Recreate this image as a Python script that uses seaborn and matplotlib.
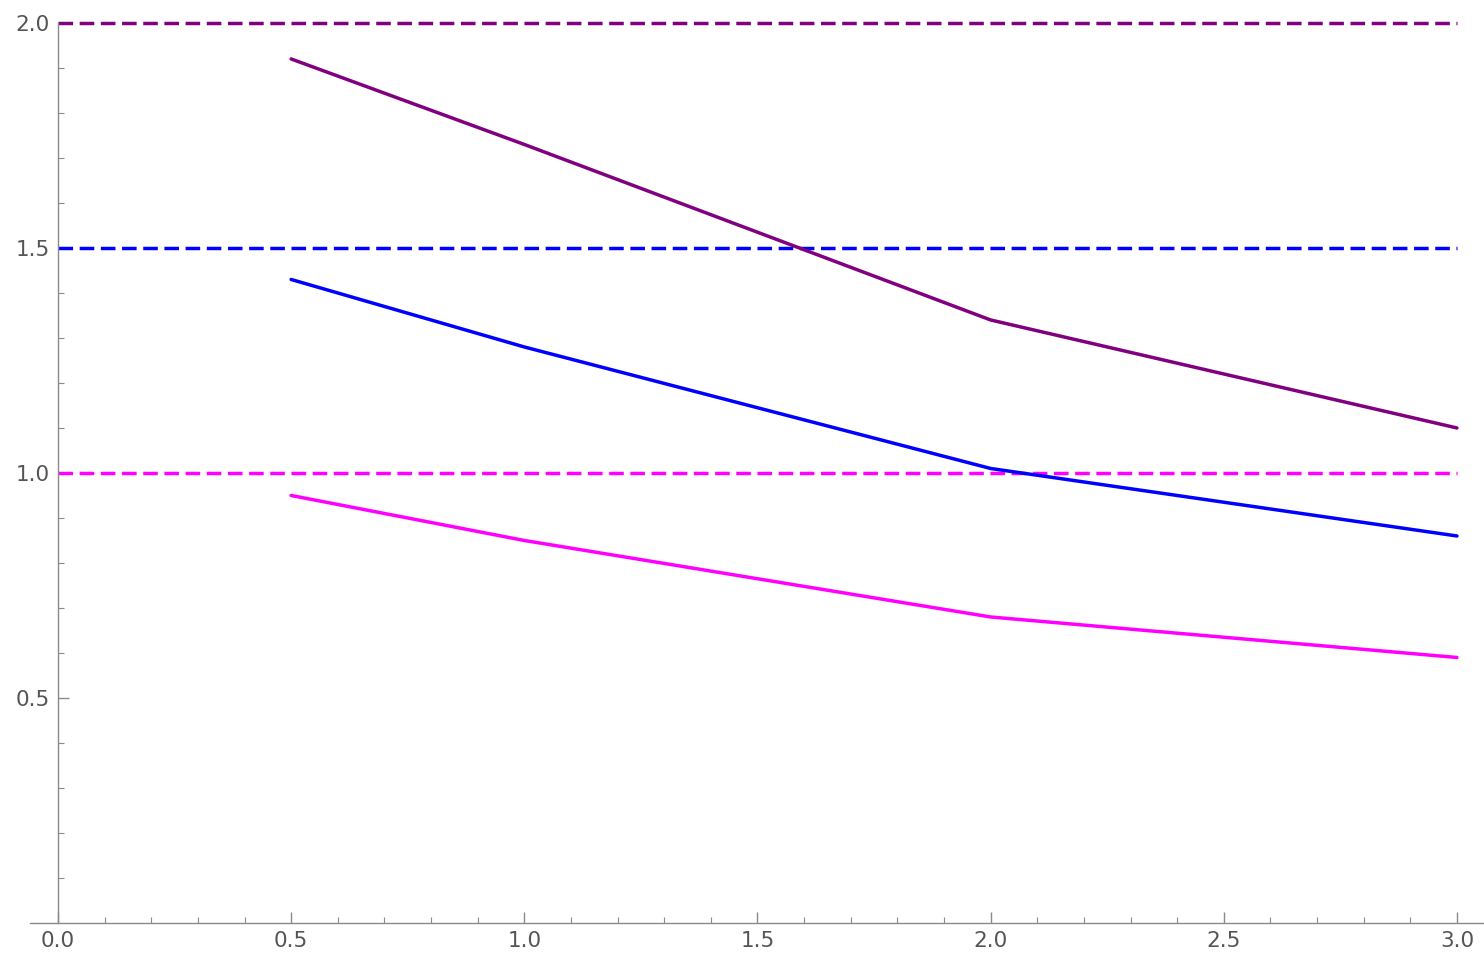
import numpy as np
import pandas as pd
import matplotlib
matplotlib.use("Agg")
import matplotlib.pyplot as plt
import seaborn as sns
from matplotlib.ticker import MultipleLocator, FixedLocator

# data
###############################################################################
x_vals = [0.5, 1.0, 2.0, 3.0]
purple_vals = [1.92, 1.73, 1.34, 1.10]
blue_vals = [1.43, 1.28, 1.01, 0.86]
magenta_vals = [0.95, 0.85, 0.68, 0.59]
series_names = ['purple', 'blue', 'magenta']
ref_levels = [2.0, 1.5, 1.0]
colors = ['#800080', '#0000ff', '#ff00ff']

df = pd.DataFrame({
    'x': x_vals * 3,
    'y': purple_vals + blue_vals + magenta_vals,
    'series': [s for s in series_names for _ in x_vals],
})

# plot
###############################################################################
sns.set_style('white')
plt.rcParams['font.family'] = ['DejaVu Sans']

fig = plt.figure(figsize=(14.84, 9.58), dpi=100)
ax = fig.add_axes([30 / 1484, 35 / 958, 1454 / 1484, 923 / 958])

ax.hlines(ref_levels, 0, 3, colors=colors, linewidth=2.5,
          linestyles=(0, (4.2, 1.9)), zorder=2)

sns.lineplot(data=df, x='x', y='y', hue='series', palette=colors,
             linewidth=2.5, ax=ax, legend=False, zorder=3)

ax.set_xlim(-0.06, 3.058)
ax.set_ylim(0, 2.051)
ax.set_xlabel('')
ax.set_ylabel('')

for side in ['top', 'right']:
    ax.spines[side].set_visible(False)
ax.spines['left'].set_position(('data', 0))
ax.spines['left'].set_bounds(0, 2.0)
for side in ['left', 'bottom']:
    ax.spines[side].set_color('#8a8a8a')
    ax.spines[side].set_linewidth(1.0)

ax.xaxis.set_major_locator(MultipleLocator(0.5))
ax.xaxis.set_minor_locator(MultipleLocator(0.1))
ax.yaxis.set_major_locator(FixedLocator([0.5, 1.0, 1.5, 2.0]))
ax.yaxis.set_minor_locator(FixedLocator(np.round(np.arange(0.1, 2.0, 0.1), 1)))
ax.xaxis.set_major_formatter(matplotlib.ticker.FormatStrFormatter('%.1f'))
ax.yaxis.set_major_formatter(matplotlib.ticker.FormatStrFormatter('%.1f'))

ax.tick_params(which='major', direction='in', length=8, width=1.0,
               color='#8a8a8a', labelcolor='#555555', labelsize=15.5,
               bottom=True, left=True)
ax.tick_params(which='minor', direction='in', length=4.5, width=0.8,
               color='#8a8a8a', bottom=True, left=True)
ax.tick_params(axis='x', which='major', pad=6)
ax.tick_params(axis='y', which='major', pad=6)

plt.savefig('out.png', dpi=100)
